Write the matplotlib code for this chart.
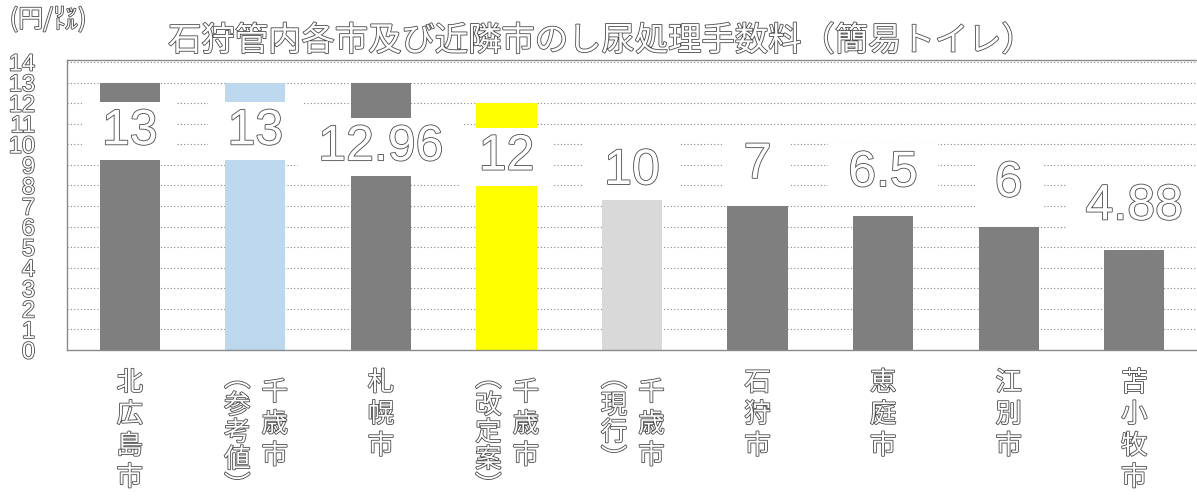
import matplotlib
matplotlib.use('Agg')
import matplotlib.pyplot as plt
import matplotlib.patheffects as pe

# ---------------- data ----------------
main_names = ['北広島市', '千歳市', '札幌市', '千歳市', '千歳市', '石狩市', '恵庭市', '江別市', '苫小牧市']
sub_names = ['', '参考値', '', '改定案', '現行', '', '', '', '']
values = [13, 13, 12.96, 12, 10, 7, 6.5, 6, 4.88]
value_labels = ['13', '13', '12.96', '12', '10', '7', '6.5', '6', '4.88']
yticks = list(range(0, 15))
title = '石狩管内各市及び近隣市のし尿処理手数料（簡易トイレ）'
unit = '(円/㍑)'

# ---------------- style ----------------
colors = ['#7f7f7f', '#bdd7ee', '#7f7f7f', '#ffff00', '#d9d9d9',
          '#7f7f7f', '#7f7f7f', '#7f7f7f', '#7f7f7f']
label_shift = [-2.37, -2.37, -3.1, -2.6, -1.3, 2.0, 2.1, 2.1, 2.1]
CJK = ['Noto Sans CJK JP', 'DejaVu Sans']
NARROW = ['Liberation Sans Narrow', 'Liberation Sans', 'DejaVu Sans']
fx = [pe.withStroke(linewidth=1.2, foreground='#4a4a4a')]

W, H = 1197, 501
fig = plt.figure(figsize=(W / 100, H / 100), dpi=100)
ax = fig.add_axes([67 / W, (H - 350) / H, 1 - 67 / W, 290 / H])

x = list(range(len(values)))
ax.bar(x, values, width=0.48, color=colors, zorder=2)

ax.set_xlim(-0.5, len(values) - 0.5)
ax.set_ylim(0, 14.1)
ax.set_yticks(yticks)
ax.set_yticklabels([str(t) for t in yticks], family=NARROW, fontsize=17,
                   color='white', path_effects=fx)
ax.tick_params(axis='y', length=0, pad=23)
ax.set_xticks([])

for t in yticks[1:]:
    ax.axhline(t, color='#8a8a8a', lw=0.8, ls=(0, (1, 2)), zorder=1)

for s in ['left', 'top', 'bottom']:
    ax.spines[s].set_color('#8a8a8a')
    ax.spines[s].set_linewidth(1.0)
ax.spines['right'].set_visible(False)

# value labels
for i, (v, lab) in enumerate(zip(values, value_labels)):
    ax.text(i, v + label_shift[i], ' ' + lab + ' ', ha='center', va='center',
            family=NARROW, fontsize=36, color='white', path_effects=fx,
            bbox=dict(boxstyle='square,pad=0.12', fc='white', ec='none'),
            zorder=4)

# category labels (vertical writing)
for i, (m, s) in enumerate(zip(main_names, sub_names)):
    if s:
        ax.annotate('\n'.join(m), xy=(i, 0), xycoords=('data', 'axes fraction'),
                    xytext=(14, -21), textcoords='offset points', ha='center',
                    va='top', family=CJK, fontsize=19, linespacing=1.22,
                    color='white', path_effects=fx, annotation_clip=False)
        ax.annotate('\n'.join('︵' + s + '︶'), xy=(i, 0),
                    xycoords=('data', 'axes fraction'),
                    xytext=(-13, -11), textcoords='offset points', ha='center',
                    va='top', family=CJK, fontsize=19, linespacing=1.0,
                    color='white', path_effects=fx, annotation_clip=False)
    else:
        ax.annotate('\n'.join(m), xy=(i, 0), xycoords=('data', 'axes fraction'),
                    xytext=(0, -14), textcoords='offset points', ha='center',
                    va='top', family=CJK, fontsize=19, linespacing=1.22,
                    color='white', path_effects=fx, annotation_clip=False)

fig.text(602 / W, 1 - 41 / H, title, ha='center', va='center', family=CJK,
         fontsize=24, color='white', path_effects=fx)
fig.text(48 / W, 1 - 20 / H, unit, ha='center', va='center', family=CJK,
         fontsize=18, color='white', path_effects=fx)

fig.savefig('out.png', dpi=100)
